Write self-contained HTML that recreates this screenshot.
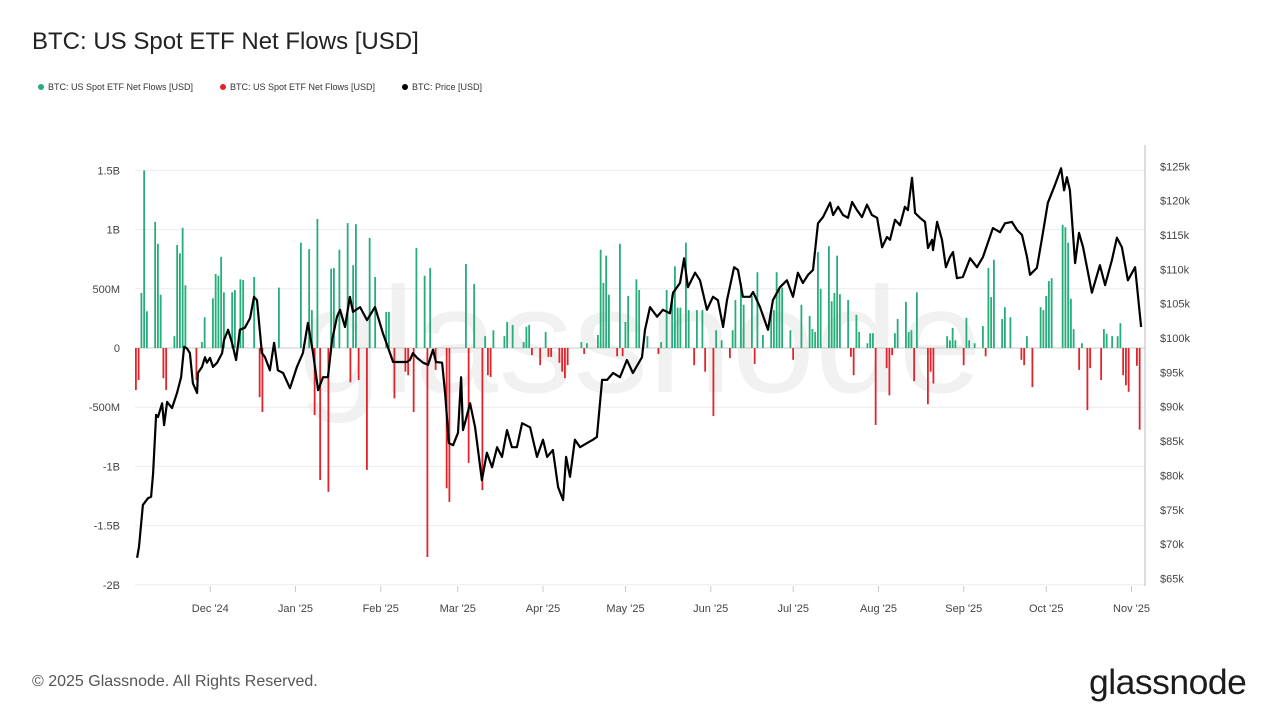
<!DOCTYPE html>
<html><head><meta charset="utf-8"><style>
html,body{margin:0;padding:0;background:#fff;width:1280px;height:720px;overflow:hidden;font-family:"Liberation Sans",sans-serif}
#title{position:absolute;left:32px;top:28px;font-size:24px;color:#222}
.leg{position:absolute;top:82px;font-size:9px;color:#333;display:flex;align-items:center}
.leg i{display:inline-block;width:6px;height:6px;border-radius:50%;margin-right:4px}
#foot{position:absolute;left:32px;top:673px;font-size:16px;color:#555}
#logo{position:absolute;left:1089px;top:662px;font-size:35.5px;color:#1c1c1c;letter-spacing:-0.5px}
</style></head><body>
<div id="title">BTC: US Spot ETF Net Flows [USD]</div>
<div class="leg" style="left:38px"><i style="background:#26ad7a"></i>BTC: US Spot ETF Net Flows [USD]</div>
<div class="leg" style="left:220px"><i style="background:#e0242b"></i>BTC: US Spot ETF Net Flows [USD]</div>
<div class="leg" style="left:402px"><i style="background:#000"></i>BTC: Price [USD]</div>
<svg id="chart" width="1280" height="720" style="position:absolute;left:0;top:0"></svg>
<div id="foot">© 2025 Glassnode. All Rights Reserved.</div>
<div id="logo">glassnode</div>
<script>
const leftTicks=[1500,1000,500,0,-500,-1000,-1500,-2000];
const leftTickLabels=["1.5B","1B","500M","0","-500M","-1B","-1.5B","-2B"];
const rightTicks=[125,120,115,110,105,100,95,90,85,80,75,70,65];
const monthDays=[27,58,89,117,148,178,209,239,270,301,331,362];
const monthLabels=["Dec '24","Jan '25","Feb '25","Mar '25","Apr '25","May '25","Jun '25","Jul '25","Aug '25","Sep '25","Oct '25","Nov '25"];
const flowDays=[0,1,2,3,4,7,8,9,10,11,14,15,16,17,18,22,24,25,28,29,30,31,32,35,36,38,39,43,45,46,52,60,63,64,65,66,67,70,71,72,74,77,78,79,80,81,84,85,87,91,92,94,98,99,101,102,105,106,107,109,113,114,120,121,123,126,127,128,129,130,134,135,137,141,142,143,144,147,149,150,151,154,155,156,157,162,163,164,168,169,170,171,172,175,176,177,178,179,182,183,186,190,191,193,195,196,197,198,200,201,203,204,206,207,210,211,213,216,217,218,220,221,224,225,226,228,231,232,233,234,235,238,239,242,245,246,247,248,249,252,253,254,255,256,259,260,261,262,263,266,267,268,269,273,274,275,276,277,280,281,282,283,284,288,289,290,295,296,297,298,301,302,303,305,308,309,310,311,312,315,316,318,322,323,324,326,329,330,331,332,333,337,338,339,340,341,343,344,346,347,351,352,353,355,357,358,359,360,361,364,365];
const flowValues=[-355,-270,465,1500,310,1065,880,450,-255,-355,100,870,800,1015,530,-270,50,260,420,625,610,770,470,470,490,580,575,600,-415,-540,510,890,835,320,-565,1090,-1115,-1215,670,675,830,1055,-290,700,1045,-270,-1030,930,600,305,305,-425,-200,-230,-540,845,610,-1765,675,-185,-1185,-1300,710,-970,540,-1200,100,-230,-245,150,100,220,195,50,180,195,-60,-145,135,-75,-75,-125,-200,-255,-145,50,-50,40,110,830,550,780,450,-70,880,-70,220,440,580,490,100,-50,50,490,450,690,340,340,890,320,-145,320,320,-200,-575,150,65,-85,150,405,550,365,440,-135,640,110,320,320,640,490,510,150,-100,365,270,160,135,810,500,860,395,465,780,455,405,-75,-230,280,135,40,125,125,-650,-170,-400,-60,125,245,390,135,150,-280,470,-475,-200,-300,100,65,170,65,-145,255,65,40,185,-70,675,430,745,245,345,260,-100,-145,100,-330,345,320,440,565,590,1040,1020,890,415,160,-185,40,-525,-170,-270,160,120,100,100,210,-230,-315,-370,-150,-690];
const priceDays=[0.4,1.1,2.5,4.4,5.5,6.2,7.3,8,9.5,10.2,11.3,13.1,14.9,16.4,17.5,18.5,19.6,20.7,22.2,22.5,24,25.1,25.8,26.9,28,29.5,31.3,32,33.5,34.9,36.4,37.8,39.6,41.5,42.9,44,45.8,46.9,48.7,50.2,51.6,53.5,56,58.5,60.7,62.5,64.4,66.2,68,69.8,71.3,73.1,74.2,76,77.8,78.9,81.5,84,86.9,89.8,91.3,93.5,98.5,99.6,100.7,102.2,104.4,106.2,108,109.1,111.3,112.4,113.8,115.3,117.1,118.2,118.9,119.6,121.5,123.3,125.8,127.6,129.5,131.3,133.1,134.9,136.7,138.5,140.4,143.3,145.8,148,149.5,151.6,153.5,155.3,156.4,157.8,159.6,161.5,164,166.2,167.6,169.5,171.3,173.5,176,178.5,180.7,184,185.1,186.9,189.5,191.6,194.2,195.3,197.8,199.3,200.7,203.3,205.1,207.6,209.8,211.6,213.5,214.9,217.5,218.9,220.7,223.3,224.4,226.9,229.8,231.6,234.2,236.7,238.9,240.7,242.5,244.4,246.2,248,249.8,252.4,253.5,255.3,257.1,258.9,260.4,262.2,264,265.8,267.6,269.5,271.3,273.1,274.2,276,277.8,279.6,280.7,282.2,283.3,285.1,286.9,288,289.5,289.8,291.3,293.1,294.5,296,297.1,298.5,300.7,303.3,305.8,308,311.6,314.2,316,318.5,320.4,322.2,324,325.1,327.6,329.5,331.6,334.2,336.4,337.5,338.5,339.6,341.5,342.9,344.4,347.6,350.5,352.4,354.9,356.7,358.5,360.7,363.3,365.5];
const priceValues=[68.0,69.6,75.7,76.7,76.9,80.3,88.8,88.5,90.5,87.3,90.7,89.8,92.0,94.3,98.7,98.5,97.8,93.4,92.0,94.9,95.8,97.2,96.4,97.1,95.8,96.4,97.8,99.7,101.2,99.3,96.8,101.2,101.5,102.9,106.0,105.5,97.8,97.2,95.3,99.3,95.3,94.9,92.7,95.8,97.8,102.2,97.8,92.4,94.3,94.3,99.7,103.1,104.1,101.6,106.0,103.8,104.5,102.6,104.5,100.7,99.0,96.5,96.5,96.8,97.8,97.1,96.4,96.1,98.3,96.5,96.4,92.0,84.7,84.4,86.2,94.3,86.6,87.6,90.5,87.0,79.3,83.3,81.2,84.1,82.7,86.6,84.1,84.1,87.6,87.0,82.7,85.2,82.7,83.7,78.3,76.4,82.7,79.8,85.2,84.1,84.7,85.2,85.6,93.9,93.9,94.9,94.3,96.8,94.9,97.2,101.2,104.5,103.1,104.1,103.6,106.6,108.0,111.6,107.4,109.5,108.4,104.1,106.0,105.5,101.6,105.5,110.3,109.9,106.0,106.0,106.7,104.5,101.2,105.5,107.4,108.4,106.0,109.5,108.0,109.2,109.9,116.7,117.6,119.7,117.9,119.1,117.9,117.5,119.8,118.6,117.6,119.4,117.9,117.5,113.2,114.7,114.3,117.2,116.4,119.1,118.6,123.3,118.2,117.5,116.9,113.1,114.3,112.8,116.9,114.3,110.3,111.8,112.5,108.7,108.9,111.6,110.3,111.8,116.0,115.4,116.7,116.9,115.7,115.0,111.8,109.2,110.2,114.6,119.7,122.3,124.7,121.5,123.4,121.5,110.9,115.3,113.2,106.6,110.6,107.7,111.4,114.6,113.2,108.4,110.3,101.6];

const NS="http://www.w3.org/2000/svg";
const svg=document.getElementById('chart');
const X=d=>136+d*2.75;
const YL=v=>348-v*0.1184;
const YR=p=>338-(p-100)*6.87;
function mk(tag,attrs,parent){const e=document.createElementNS(NS,tag);for(const k in attrs)e.setAttribute(k,attrs[k]);(parent||svg).appendChild(e);return e;}

const wm=mk('text',{x:640,y:392,'text-anchor':'middle','font-size':150,fill:'#f1f1f1','font-family':'Liberation Sans, sans-serif'});
wm.textContent='glassnode';



leftTicks.forEach((v,i)=>{
  const g=mk('line',{x1:135,x2:1145,y1:YL(v),y2:YL(v),stroke:v===0?'#c8c8c8':'#ececec','stroke-width':1});
  
  
  const t=mk('text',{x:120,y:YL(v)+4,'text-anchor':'end','font-size':11,fill:'#444'});
  t.textContent=leftTickLabels[i];
  
  
});
rightTicks.forEach(p=>{
  const t=mk('text',{x:1160,y:YR(p)+4,'font-size':11,fill:'#444'});
  t.textContent='$'+p+'k';
  
  
});
const ax=mk('line',{x1:1145,x2:1145,y1:145,y2:586,stroke:'#bbb','stroke-width':1});


monthDays.forEach((d,i)=>{
  mk('line',{x1:X(d),x2:X(d),y1:586,y2:592,stroke:'#ccc'});
  const t=mk('text',{x:X(d),y:612,'text-anchor':'middle','font-size':11,fill:'#444'});
  t.textContent=monthLabels[i];
  
  
});
flowDays.forEach((d,i)=>{
  const v=flowValues[i];
  const y0=YL(0),y1=YL(v);
  const r=mk('rect',{x:X(d)-1,y:Math.min(y0,y1),width:1.8,height:Math.abs(y1-y0),fill:v>=0?'#26ad7a':'#e0242b'});
  
  
});
const pts=priceDays.map((d,i)=>X(d).toFixed(1)+','+YR(priceValues[i]).toFixed(1)).join(' ');
const pl=mk('polyline',{points:pts,fill:'none',stroke:'#000','stroke-width':2.2,'stroke-linejoin':'round'});


</script>
</body></html>
